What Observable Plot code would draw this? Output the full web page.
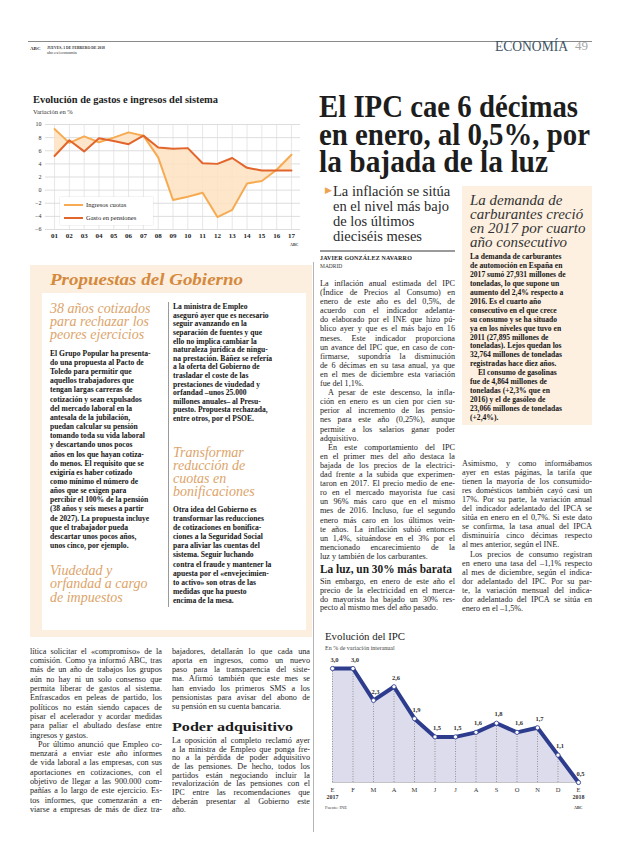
<!DOCTYPE html>
<html><head><meta charset="utf-8">
<script src="https://cdn.jsdelivr.net/npm/d3@7"></script>
<script src="https://cdn.jsdelivr.net/npm/@observablehq/plot@0.6"></script>
<style>
html,body{margin:0;padding:0;background:#fff;}
#page{position:relative;width:620px;height:846px;overflow:hidden;background:#fff;font-family:"Liberation Serif",serif;color:#222;}
.abs{position:absolute;}
.ln{position:absolute;white-space:nowrap;transform-origin:0 50%;}
svg{overflow:visible;}
</style></head><body><div id="page"></div>
<script>
// ---------- chart data ----------
const years = ["01","02","03","04","05","06","07","08","09","10","11","12","13","14","15","16","17"];
const ingresosCuotas = [9.3,7.2,8.2,7.3,8.0,8.8,8.3,5.0,-1.5,-1.0,-0.4,-4.1,-3.0,1.0,1.4,3.1,5.4];
const gastoPensiones = [5.2,7.6,5.9,7.9,7.5,7.0,8.3,6.5,6.3,6.4,4.1,4.0,4.9,3.4,3.0,3.0,3.0];
const yTicksGastos = [-6,-4,-2,0,2,4,6,8,10];

const ipcMonths = ["E","F","M","A","M","J","J","A","S","O","N","D","E"];
const ipcValues = [3.0,3.0,2.3,2.6,1.9,1.5,1.5,1.6,1.8,1.6,1.7,1.1,0.5];
const ipcYears = ["2017","2018"];

// ---------- helpers ----------
const page = document.getElementById("page");
function box(x,y,w,h,bg,extra){const d=document.createElement("div");d.className="abs";Object.assign(d.style,{left:x+"px",top:y+"px",width:w+"px",height:h+"px",background:bg},extra||{});page.appendChild(d);return d;}
function lines(x,y0,w,pitch,style,arr,opts={}){
  const indent = opts.indent ?? 8;
  const lh = opts.lh ?? pitch*0.9;
  arr.forEach((raw,i)=>{
    let t=raw,last=false,ind=0;
    if(t.startsWith(">")){t=t.slice(1);ind=indent;}
    if(t.endsWith("¶")){t=t.slice(0,-1);last=true;}
    const el=document.createElement("div");
    el.className="ln";
    Object.assign(el.style,style);
    el.style.lineHeight=lh+"px";
    el.style.height=lh+"px";
    el.style.left=(x+ind)+"px";
    el.style.top=(y0+i*pitch-lh/2)+"px";
    el.textContent=t;
    page.appendChild(el);
    const avail=w-ind;
    const nat=el.getBoundingClientRect().width;
    if(opts.stretch || nat>avail){el.style.transform=`scaleX(${avail/nat})`;}
    else if(opts.justify && !last){const n=(t.match(/ /g)||[]).length;if(n)el.style.wordSpacing=((avail-nat)/n)+"px";}
  });
}
const body={fontFamily:"Liberation Serif",fontSize:"8.2px",color:"#1c1c1c"};
const bold={fontFamily:"Liberation Serif",fontWeight:"bold",fontSize:"7.6px",color:"#151515"};
const ital={fontFamily:"Liberation Serif",fontStyle:"italic",fontSize:"14px",color:"#dca46a"};

// ---------- header ----------
box(28,41,564,1,"#8a8a8a");
lines(30,49,14,6,{fontFamily:"Liberation Serif",fontWeight:"bold",fontSize:"5px",color:"#333"},["ABC"]);
lines(47,48,58,5,{fontFamily:"Liberation Serif",fontWeight:"bold",fontSize:"5px",color:"#333"},["JUEVES, 1 DE FEBRERO DE 2018"],{stretch:true});
lines(47,53.5,40,5,{fontFamily:"Liberation Serif",fontSize:"4.5px",color:"#333"},["abc.es/economia"]);
lines(495,46,73,16,{fontFamily:"Liberation Serif",fontSize:"15px",color:"#3e5464"},["ECONOMÍA"],{stretch:true});
lines(575,46,13,16,{fontFamily:"Liberation Serif",fontSize:"13px",color:"#a8a8a8"},["49"]);

// ---------- top-left chart ----------
lines(33,100,185,12,{fontFamily:"Liberation Serif",fontWeight:"bold",fontSize:"10px",color:"#222"},["Evolución de gastos e ingresos del sistema"],{stretch:true});
lines(33,111.5,42,8,{fontFamily:"Liberation Serif",fontSize:"6.5px",color:"#333"},["Variación en %"]);

const serie = years.map((y,i)=>({i:i+1, ing:ingresosCuotas[i], gas:gastoPensiones[i]}));
const chart1 = Plot.plot({
  width:290,height:130,marginLeft:25,marginRight:10,marginTop:6,marginBottom:19,
  x:{domain:[0.39,17.61],axis:null}, y:{domain:[-6,10],axis:null},
  style:{fontFamily:"Liberation Serif",fontSize:"6px",color:"#333",background:"transparent"},
  marks:[
    Plot.gridY(yTicksGastos,{stroke:"#cfcfcf",strokeOpacity:1,strokeWidth:0.7}),
    Plot.gridX(d3.range(1,18),{stroke:"#dcdcdc",strokeOpacity:1,strokeWidth:0.7}),
    Plot.areaY(serie,{x:"i",y1:"ing",y2:"gas",fill:"#fde2bf",fillOpacity:0.85}),
    Plot.lineY(serie,{x:"i",y:"ing",stroke:"#f6ab52",strokeWidth:2}),
    Plot.lineY(serie,{x:"i",y:"gas",stroke:"#e2652b",strokeWidth:2}),
    Plot.axisY(yTicksGastos,{tickSize:0,tickPadding:4,fontSize:6,label:null,fill:"#333"}),
    Plot.axisX(d3.range(1,18),{tickSize:0,tickPadding:4,fontSize:7,fontWeight:"bold",label:null,tickFormat:i=>years[i-1],fill:"#222"})
  ]
});
const c1=document.createElement("div");c1.className="abs";c1.style.left="20px";c1.style.top="118px";c1.appendChild(chart1);page.appendChild(c1);

// legend
box(60,197,93,28,"#fff",{boxShadow:"0 0 1px #bbb"});
box(64,203.5,19,2,"#f6ab52");
box(64,216.5,19,2,"#e2652b");
lines(86,204.5,60,8,{fontFamily:"Liberation Serif",fontSize:"6.5px",color:"#222"},["Ingresos cuotas"]);
lines(86,217.5,62,8,{fontFamily:"Liberation Serif",fontSize:"6.5px",color:"#222"},["Gasto en pensiones"]);
lines(290,245,10,5,{fontFamily:"Liberation Serif",fontWeight:"bold",fontSize:"4px",color:"#333"},["ABC"]);

// ---------- Propuestas box ----------
box(30,265,282,372,"#fcefdf");
box(42,293,264,337,"#fff");
box(168,302,0.8,305,"#9a9a9a");
box(313,262,0.8,570,"#b5b5b5");
lines(50,280,193,20,{fontFamily:"Liberation Serif",fontWeight:"bold",fontStyle:"italic",fontSize:"17px",color:"#d5893d"},["Propuestas del Gobierno"],{stretch:true});
lines(50,308,110,13,ital,["38 años cotizados","para rechazar los","peores ejercicios"],{lh:11});
lines(50,354,112,9.15,bold,[
"El Grupo Popular ha presenta-","do una propuesta al Pacto de","Toledo para permitir que","aquellos trabajadores que","tengan largas carreras de","cotización y sean expulsados","del mercado laboral en la","antesala de la jubilación,","puedan calcular su pensión","tomando toda su vida laboral","y descartando unos pocos","años en los que hayan cotiza-","do menos. El requisito que se","exigiría es haber cotizado","como mínimo el número de","años que se exigen para","percibir el 100% de la pensión","(38 años y seis meses a partir","de 2027). La propuesta incluye","que el trabajador pueda","descartar unos pocos años,","unos cinco, por ejemplo."]);
lines(50,570,110,13.5,ital,["Viudedad y","orfandad a cargo","de impuestos"],{lh:11});
lines(173,307,128,8.6,bold,[
"La ministra de Empleo","aseguró ayer que es necesario","seguir avanzando en la","separación de fuentes y que","ello no implica cambiar la","naturaleza jurídica de ningu-","na prestación. Báñez se refería","a la oferta del Gobierno de","trasladar el coste de las","prestaciones de viudedad y","orfandad –unos 25.000","millones anuales– al Presu-","puesto. Propuesta rechazada,","entre otros, por el PSOE."]);
lines(173,452,128,13,ital,["Transformar","reducción de","cuotas en","bonificaciones"],{lh:11});
lines(173,510,128,9.1,bold,[
"Otra idea del Gobierno es","transformar las reducciones","de cotizaciones en bonifica-","ciones a la Seguridad Social","para aliviar las cuentas del","sistema. Seguir luchando","contra el fraude y mantener la","apuesta por el «envejecimien-","to activo» son otras de las","medidas que ha puesto","encima de la mesa."]);

// ---------- bottom-left text ----------
lines(30,652,132,9.3,body,[
"lítica solicitar el «compromiso» de la","comisión. Como ya informó ABC, tras","más de un año de trabajos los grupos","aún no hay ni un solo consenso que","permita liberar de gastos al sistema.","Enfrascados en peleas de partido, los","políticos no están siendo capaces de","pisar el acelerador y acordar medidas","para paliar el abultado desfase entre","ingresos y gastos.¶",">Por último anunció que Empleo co-","menzará a enviar este año informes","de vida laboral a las empresas, con sus","aportaciones en cotizaciones, con el","objetivo de llegar a las 900.000 com-","pañías a lo largo de este ejercicio. Es-","tos informes, que comenzarán a en-","viarse a empresas de más de diez tra-"],{justify:true});
lines(172,652,138,9.2,body,[
"bajadores, detallarán lo que cada una","aporta en ingresos, como un nuevo","paso para la transparencia del siste-","ma. Afirmó también que este mes se","han enviado los primeros SMS a los","pensionistas para avisar del abono de","su pensión en su cuenta bancaria.¶"],{justify:true});
lines(172,727,121,14,{fontFamily:"Liberation Serif",fontWeight:"bold",fontSize:"12.5px",color:"#1b1b1b"},["Poder adquisitivo"],{stretch:true});
lines(172,741,138,8.65,body,[
"La oposición al completo reclamó ayer","a la ministra de Empleo que ponga fre-","no a la pérdida de poder adquisitivo","de las pensiones. De hecho, todos los","partidos están negociando incluir la","revalorización de las pensiones con el","IPC entre las recomendaciones que","deberán presentar al Gobierno este","año.¶"],{justify:true});

// ---------- headline ----------
const hl={fontFamily:"Liberation Serif",fontWeight:"bold",fontSize:"32px",color:"#1d1d1d"};
lines(319,106,259,28,hl,["El IPC cae 6 décimas"],{stretch:true,lh:25});
lines(319,134,271,28,hl,["en enero, al 0,5%, por"],{stretch:true,lh:25});
lines(319,161,229,28,hl,["la bajada de la luz"],{stretch:true,lh:25});
const sh={fontFamily:"Liberation Serif",fontSize:"14.5px",color:"#2a2a2a"};
lines(325,191,8,15,{fontFamily:"DejaVu Sans",fontSize:"9px",color:"#f0a24e"},["▶"]);
lines(333,191,120,15,sh,["La inflación se sitúa","en el nivel más bajo","de los últimos","dieciséis meses"],{lh:13});
box(320,250,135,1.5,"#9a9a9a");
lines(320,258,92,7,{fontFamily:"Liberation Serif",fontWeight:"bold",fontSize:"6px",color:"#222",letterSpacing:"0.2px"},["JAVIER GONZÁLEZ NAVARRO"],{stretch:true});
lines(320,266,30,7,{fontFamily:"Liberation Serif",fontSize:"5.5px",color:"#333"},["MADRID"]);

// ---------- column 1 body ----------
lines(320,284,135,9.1,body,[
"La inflación anual estimada del IPC","(Índice de Precios al Consumo) en","enero de este año es del 0,5%, de","acuerdo con el indicador adelanta-","do elaborado por el INE que hizo pú-","blico ayer y que es el más bajo en 16","meses. Este indicador proporciona","un avance del IPC que, en caso de con-","firmarse, supondría la disminución","de 6 décimas en su tasa anual, ya que","en el mes de diciembre esta variación","fue del 1,1%.¶",">A pesar de este descenso, la infla-","ción en enero es un cien por cien su-","perior al incremento de las pensio-","nes para este año (0,25%), aunque","permite a los salarios ganar poder","adquisitivo.¶",">En este comportamiento del IPC","en el primer mes del año destaca la","bajada de los precios de la electrici-","dad frente a la subida que experimen-","taron en 2017. El precio medio de ene-","ro en el mercado mayorista fue casi","un 96% más caro que en el mismo","mes de 2016. Incluso, fue el segundo","enero más caro en los últimos vein-","te años. La inflación subió entonces","un 1,4%, situándose en el 3% por el","mencionado encarecimiento de la","luz y también de los carburantes.¶"],{justify:true});
lines(320,570,132,13,{fontFamily:"Liberation Serif",fontWeight:"bold",fontSize:"12px",color:"#1b1b1b"},["La luz, un 30% más barata"],{stretch:true});
lines(320,582,135,8.75,body,[
"Sin embargo, en enero de este año el","precio de la electricidad en el merca-","do mayorista ha bajado un 30% res-","pecto al mismo mes del año pasado.¶"],{justify:true});

// ---------- carburantes box ----------
box(462,186,130,239,"#fdf0e1");
lines(470,200,116,14,{fontFamily:"Liberation Serif",fontStyle:"italic",fontSize:"15px",color:"#333"},["La demanda de","carburantes creció","en 2017 por cuarto","año consecutivo"],{lh:12});
lines(470,257,116,8.95,bold,[
"La demanda de carburantes","de automoción en España en","2017 sumó 27,931 millones de","toneladas, lo que supone un","aumento del 2,4% respecto a","2016. Es el cuarto año","consecutivo en el que crece","su consumo y se ha situado","ya en los niveles que tuvo en","2011 (27,895 millones de","toneladas). Lejos quedan los","32,764 millones de toneladas","registradas hace diez años.",">El consumo de gasolinas","fue de 4,864 millones de","toneladas (+2,3% que en","2016) y el de gasóleo de","23,066 millones de toneladas","(+2,4%)."]);
lines(462,464,130,9.06,body,[
"Asimismo, y como informábamos","ayer en estas páginas, la tarifa que","tienen la mayoría de los consumido-","res domésticos también cayó casi un","17%. Por su parte, la variación anual","del indicador adelantado del IPCA se","sitúa en enero en el 0,7%. Si este dato","se confirma, la tasa anual del IPCA","disminuiría cinco décimas respecto","al mes anterior, según el INE.¶",">Los precios de consumo registran","en enero una tasa del –1,1% respecto","al mes de diciembre, según el indica-","dor adelantado del IPC. Por su par-","te, la variación mensual del indica-","dor adelantado del IPCA se sitúa en","enero en el –1,5%.¶"],{justify:true});

// ---------- IPC chart ----------
lines(325,637,80,12,{fontFamily:"Liberation Serif",fontSize:"10.5px",color:"#222"},["Evolución del IPC"],{stretch:true});
lines(325,648.5,85,7,{fontFamily:"Liberation Serif",fontSize:"6px",color:"#444"},["En % de variación interanual"]);
const ipc = ipcValues.map((v,i)=>({i,v}));
const chart2 = Plot.plot({
  width:290,height:160,marginLeft:14,marginRight:30,marginTop:13,marginBottom:33,
  x:{domain:[0,12],axis:null}, y:{domain:[0.5,3.0],axis:null},
  style:{fontFamily:"Liberation Serif",fontSize:"6.5px",color:"#333",background:"transparent"},
  marks:[
    Plot.areaY(ipc,{x:"i",y1:0.5,y2:"v",fill:"#dcdcec"}),
    Plot.ruleX(ipc,{x:"i",y1:0.5,y2:"v",stroke:"#777",strokeWidth:0.7,strokeDasharray:"1,1.5"}),
    Plot.ruleY([0.5],{stroke:"#aaa",strokeWidth:0.7}),
    Plot.lineY(ipc,{x:"i",y:"v",stroke:"#2e3c8e",strokeWidth:4,strokeLinejoin:"round"}),
    Plot.dot(ipc,{x:"i",y:"v",r:2.1,fill:"#fff",stroke:"#2e3c8e",strokeWidth:0.8}),
    Plot.text(ipc,{x:"i",y:"v",text:d=>d.v.toFixed(1).replace(".",","),dy:-9,dx:2,fontSize:6.5,fontWeight:"bold",fill:"#333"}),
    Plot.axisX(d3.range(13),{tickSize:0,tickPadding:5,fontSize:6.5,label:null,tickFormat:i=>ipcMonths[i],fill:"#333"}),
    Plot.text(ipcYears,{x:(d,i)=>i*12,y:()=>0.5,dy:15,text:d=>d,fontSize:6,fontWeight:"bold",fill:"#333"})
  ]
});
const c2=document.createElement("div");c2.className="abs";c2.style.left="318px";c2.style.top="655px";c2.appendChild(chart2);page.appendChild(c2);
lines(325,808,30,5,{fontFamily:"Liberation Serif",fontSize:"4.5px",color:"#444"},["Fuente: INE"]);
lines(574,808,10,5,{fontFamily:"Liberation Serif",fontWeight:"bold",fontSize:"4px",color:"#333"},["ABC"]);
</script></body></html>
